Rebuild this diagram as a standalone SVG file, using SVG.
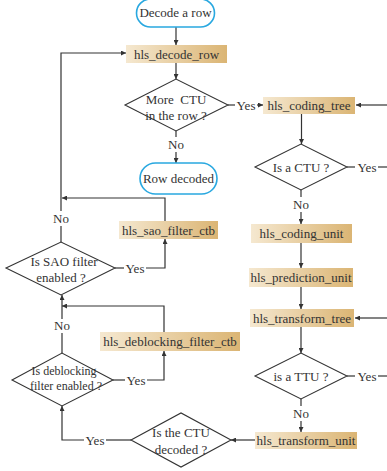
<svg xmlns="http://www.w3.org/2000/svg" width="387" height="471" viewBox="0 0 387 471">
<defs>
<linearGradient id="g" x1="0" y1="0" x2="1" y2="0">
<stop offset="0" stop-color="#f5e8d0"/>
<stop offset="1" stop-color="#dbb574"/>
</linearGradient>
<marker id="a" viewBox="0 0 8 8" refX="8" refY="4" markerWidth="5" markerHeight="5" orient="auto" markerUnits="userSpaceOnUse">
<path d="M0,0 L8,4 L0,8 Z" fill="#333"/>
</marker>
</defs>
<style>
text{font-family:"Liberation Serif","Times New Roman",serif;font-size:13px;fill:#333;text-anchor:middle}
.t{fill:#fff;stroke:#29a8e0;stroke-width:1.6}
.b{fill:url(#g)}
.d{fill:#fff;stroke:#333;stroke-width:1.1}
.c{fill:none;stroke:#333;stroke-width:1.2}
.s{font-size:12px}
</style>
<rect width="387" height="471" fill="#fff"/>
<g id="connectors">
<path class="c" d="M176,27 V45" marker-end="url(#a)"/>
<path class="c" d="M176,63 V79" marker-end="url(#a)"/>
<path class="c" d="M228,105 H235"/>
<path class="c" d="M257,105 H263" marker-end="url(#a)"/>
<path class="c" d="M387,105 H356" marker-end="url(#a)"/>
<path class="c" d="M301.5,114 V144" marker-end="url(#a)"/>
<path class="c" d="M176,131 V137"/>
<path class="c" d="M176,152 V163" marker-end="url(#a)"/>
<path class="c" d="M347,167 H355"/>
<path class="c" d="M378,167 H387"/>
<path class="c" d="M301,190 V197"/>
<path class="c" d="M301,212 V224" marker-end="url(#a)"/>
<path class="c" d="M301,243 V268" marker-end="url(#a)"/>
<path class="c" d="M301,287 V309" marker-end="url(#a)"/>
<path class="c" d="M387,318 H355" marker-end="url(#a)"/>
<path class="c" d="M301,327 V353" marker-end="url(#a)"/>
<path class="c" d="M347,376 H355"/>
<path class="c" d="M378,376 H387"/>
<path class="c" d="M301,399 V406"/>
<path class="c" d="M301,421 V432" marker-end="url(#a)"/>
<path class="c" d="M255,440 H231" marker-end="url(#a)"/>
<path class="c" d="M131,440 H106"/>
<path class="c" d="M84,440 H62 V406" marker-end="url(#a)"/>
<path class="c" d="M113,380 H125"/>
<path class="c" d="M147,380 H164 V351" marker-end="url(#a)"/>
<path class="c" d="M164,332 V306 H62" marker-end="url(#a)"/>
<path class="c" d="M62,353 V333"/>
<path class="c" d="M62,319 V295" marker-end="url(#a)"/>
<path class="c" d="M115,268 H124"/>
<path class="c" d="M146,268 H165 V239" marker-end="url(#a)"/>
<path class="c" d="M165,221 V198 H62" marker-end="url(#a)"/>
<path class="c" d="M61,242 V226"/>
<path class="c" d="M61,211 V53 H126" marker-end="url(#a)"/>
<text x="246" y="109.5">Yes</text>
<text x="176" y="149">No</text>
<text x="367" y="171.5">Yes</text>
<text x="301" y="209">No</text>
<text x="367" y="380.5">Yes</text>
<text x="301" y="418">No</text>
<text x="95" y="444.5">Yes</text>
<text x="136" y="384.5">Yes</text>
<text x="62" y="330">No</text>
<text x="135" y="272.5">Yes</text>
<text x="61" y="222.5">No</text>
</g>
<g id="start"><rect class="t" x="136.5" y="-1" width="78" height="28" rx="14"/><text x="175.5" y="17">Decode a row</text></g>
<g id="decode_row"><rect class="b" x="126" y="45" width="101" height="18"/><text x="176.5" y="58.5">hls_decode_row</text></g>
<g id="more_ctu"><path class="d" d="M125,105 L176,79 L228,105 L176,131 Z"/><text x="176" y="103.5">More&#160; CTU</text><text x="176" y="119.5">in the row ?</text></g>
<g id="coding_tree"><rect class="b" x="263" y="97" width="92" height="17"/><text x="309" y="110">hls_coding_tree</text></g>
<g id="row_decoded"><rect class="t" x="140" y="163" width="77" height="31" rx="15.5"/><text x="178.5" y="183">Row decoded</text></g>
<g id="is_ctu"><path class="d" d="M255,167 L301,144 L347,167 L301,190 Z"/><text x="301" y="171.5">Is a CTU ?</text></g>
<g id="coding_unit"><rect class="b" x="251" y="224" width="101" height="19"/><text x="301.5" y="238">hls_coding_unit</text></g>
<g id="prediction_unit"><rect class="b" x="249" y="268" width="104" height="19"/><text x="301" y="282">hls_prediction_unit</text></g>
<g id="transform_tree"><rect class="b" x="250" y="309" width="104" height="18"/><text x="302" y="322.5">hls_transform_tree</text></g>
<g id="is_ttu"><path class="d" d="M255,376 L301,353 L347,376 L301,399 Z"/><text x="301" y="380.5">is a TTU ?</text></g>
<g id="transform_unit"><rect class="b" x="255" y="432" width="102" height="17"/><text x="306" y="445">hls_transform_unit</text></g>
<g id="ctu_decoded"><path class="d" d="M131,440 L181,413 L231,440 L181,467 Z"/><text x="181" y="437">Is the CTU</text><text x="181" y="454">decoded ?</text></g>
<g id="sao_filter"><rect class="b" x="119" y="221" width="99" height="18"/><text x="168.5" y="234.5">hls_sao_filter_ctb</text></g>
<g id="is_sao"><path class="d" d="M6,268 L61,242 L115,268 L61,295 Z"/><text x="64" y="266">Is SAO filter</text><text x="61" y="282">enabled ?</text></g>
<g id="deblocking_filter"><rect class="b" x="100" y="332" width="140" height="19"/><text x="170" y="346">hls_deblocking_filter_ctb</text></g>
<g id="is_deblocking"><path class="d" d="M12,380 L62,353 L113,380 L62,406 Z"/><text class="s" x="64" y="375">Is deblocking</text><text class="s" x="66" y="390">filter enabled ?</text></g>
</svg>
